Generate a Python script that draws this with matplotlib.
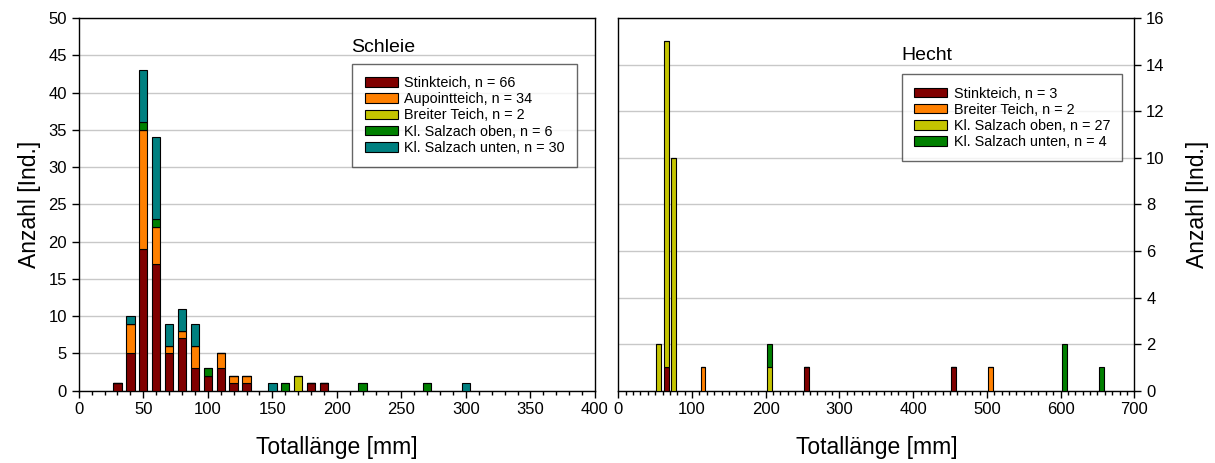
import matplotlib.pyplot as plt
from matplotlib.ticker import MultipleLocator
import numpy as np

plt.rcParams['font.family'] = ['Liberation Sans', 'DejaVu Sans']

# Schleie (tench) - length classes [mm] and counts per site
schleie_len = [30, 40, 50, 60, 70, 80, 90, 100, 110, 120, 130, 150, 160, 170, 180, 190, 220, 270, 300]
schleie_stink = [1, 5, 19, 17, 5, 7, 3, 2, 3, 1, 1, 0, 0, 0, 1, 1, 0, 0, 0]
schleie_aupoint = [0, 4, 16, 5, 1, 1, 3, 0, 2, 1, 1, 0, 0, 0, 0, 0, 0, 0, 0]
schleie_breiter = [0, 0, 0, 0, 0, 0, 0, 0, 0, 0, 0, 0, 0, 2, 0, 0, 0, 0, 0]
schleie_oben = [0, 0, 1, 1, 0, 0, 0, 1, 0, 0, 0, 0, 1, 0, 0, 0, 1, 1, 0]
schleie_unten = [0, 1, 7, 11, 3, 3, 3, 0, 0, 0, 0, 1, 0, 0, 0, 0, 0, 0, 1]
schleie_labels = ['Stinkteich, n = 66', 'Aupointteich, n = 34', 'Breiter Teich, n = 2',
                  'Kl. Salzach oben, n = 6', 'Kl. Salzach unten, n = 30']

# Hecht (pike)
hecht_len = [55, 65, 75, 115, 205, 255, 455, 505, 605, 655]
hecht_stink = [0, 1, 0, 0, 0, 1, 1, 0, 0, 0]
hecht_breiter = [0, 0, 0, 1, 0, 0, 0, 1, 0, 0]
hecht_oben = [2, 14, 10, 0, 1, 0, 0, 0, 0, 0]
hecht_unten = [0, 0, 0, 0, 1, 0, 0, 0, 2, 1]
hecht_labels = ['Stinkteich, n = 3', 'Breiter Teich, n = 2',
                'Kl. Salzach oben, n = 27', 'Kl. Salzach unten, n = 4']

red = '#800000'
orange = '#ff8000'
yellow = '#c4c400'
green = '#008000'
teal = '#008080'

fig = plt.figure(figsize=(12.15, 4.63), dpi=100)
ax1 = fig.add_axes([0.0648, 0.1562, 0.4249, 0.805])
ax2 = fig.add_axes([0.5089, 0.1562, 0.4247, 0.805])


def stacked(ax, x, series, colors, labels, width):
    bottom = np.zeros(len(x))
    for vals, c, lab in zip(series, colors, labels):
        vals = np.array(vals, dtype=float)
        ax.bar(x, vals, width=width, bottom=bottom, color=c,
               edgecolor='black', linewidth=0.8, label=lab, zorder=3)
        bottom += vals


def style(ax, xmax, ymax, ystep):
    ax.set_xlim(0, xmax)
    ax.set_ylim(0, ymax)
    ax.xaxis.set_major_locator(MultipleLocator(50 if xmax == 400 else 100))
    ax.xaxis.set_minor_locator(MultipleLocator(10))
    ax.yaxis.set_major_locator(MultipleLocator(ystep))
    ax.yaxis.grid(True, color='#c8c8c8', linewidth=1, zorder=0)
    ax.set_axisbelow(True)
    ax.tick_params(axis='both', which='major', direction='out', length=5,
                   width=1, labelsize=12, color='black')
    ax.tick_params(axis='x', which='minor', direction='out', length=3, width=1)
    for sp in ax.spines.values():
        sp.set_color('black')
        sp.set_linewidth(1)
    ax.set_xlabel('Totallänge [mm]', fontsize=16.5, labelpad=13)


def legend(ax, anchor):
    leg = ax.legend(loc='upper left', bbox_to_anchor=anchor, fontsize=10.4,
                    frameon=True, fancybox=False, handlelength=2.3,
                    handleheight=0.65, handletextpad=0.45, labelspacing=0.15,
                    borderpad=0.85, borderaxespad=0)
    leg.get_frame().set_edgecolor('#404040')
    leg.get_frame().set_linewidth(1)


# Left: Schleie
stacked(ax1, schleie_len,
        [schleie_stink, schleie_aupoint, schleie_breiter, schleie_oben, schleie_unten],
        [red, orange, yellow, green, teal], schleie_labels, 6.5)
style(ax1, 400, 50, 5)
ax1.set_ylabel('Anzahl [Ind.]', fontsize=16.5, labelpad=5)
ax1.text(0.528, 0.908, 'Schleie', transform=ax1.transAxes, fontsize=14,
         ha='left', va='baseline')
legend(ax1, (0.53, 0.877))

# Right: Hecht
stacked(ax2, hecht_len,
        [hecht_stink, hecht_breiter, hecht_oben, hecht_unten],
        [red, orange, yellow, green], hecht_labels, 6.5)
style(ax2, 700, 16, 2)
ax2.yaxis.tick_right()
ax2.yaxis.set_label_position('right')
ax2.set_ylabel('Anzahl [Ind.]', fontsize=16.5, labelpad=15)
ax2.text(0.549, 0.886, 'Hecht', transform=ax2.transAxes, fontsize=14,
         ha='left', va='baseline')
legend(ax2, (0.549, 0.849))

fig.savefig('out.png', dpi=100)
